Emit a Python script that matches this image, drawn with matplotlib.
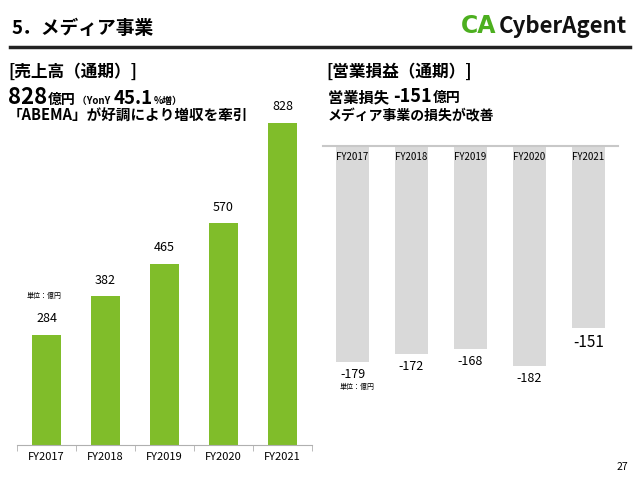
import numpy as np
import matplotlib.pyplot as plt

plt.rcParams['font.family'] = ['Noto Sans CJK JP', 'DejaVu Sans']

# data
years = ['FY2017', 'FY2018', 'FY2019', 'FY2020', 'FY2021']
sales = [284, 382, 465, 570, 828]
op_income = [-179, -172, -168, -182, -151]

green = '#80bd2a'
gray = '#d9d9d9'

W, H = 640, 480
fig = plt.figure(figsize=(6.4, 4.8), dpi=100)
renderer = fig.canvas.get_renderer()


def px_axes(x0, y0, x1, y1):
    # pixel box (top-left origin) -> figure axes
    return fig.add_axes([x0 / W, 1 - y1 / H, (x1 - x0) / W, (y1 - y0) / H])


def txt(x, y, s, **kw):
    return fig.text(x / W, 1 - y / H, s, **kw)


def chain(x, y, parts, gap=1):
    # place text pieces one after another on the same baseline
    for s, size in parts:
        t = txt(x, y, s, fontsize=size, fontweight='bold', va='baseline')
        x += t.get_window_extent(renderer).width + gap


# header
txt(12, 28, '5．メディア事業', fontsize=13.5, fontweight='bold', va='center')
fig.add_artist(plt.Line2D([10 / W, 630 / W], [1 - 47 / H, 1 - 47 / H],
                          color='#222222', lw=2.5))
txt(461, 26, 'CA', fontsize=17, fontweight='heavy', color='#4caf1f',
    va='center', family='DejaVu Sans')
txt(499, 26, 'CyberAgent', fontsize=16, fontweight='bold', color='#111111',
    va='center')
txt(628, 467, '27', fontsize=7.5, ha='right', va='center')

# left texts
txt(8, 72, '[売上高（通期）]', fontsize=12, fontweight='bold', va='center')
chain(8, 104, [('828', 16), ('億円', 10), ('（YonY ', 7), ('45.1', 13.5),
               ('%増）', 7)])
txt(8, 116, '「ABEMA」が好調により増収を牽引', fontsize=10.5, fontweight='bold',
    va='center')
txt(27, 296, '単位：億円', fontsize=5, va='center')

# right texts
txt(326, 72, '[営業損益（通期）]', fontsize=12, fontweight='bold', va='center')
chain(328, 102, [('営業損失 ', 11), ('-151', 13), ('億円', 10)])
txt(328, 116, 'メディア事業の損失が改善', fontsize=10, fontweight='bold',
    va='center')
txt(340, 387, '単位：億円', fontsize=5, va='center')

x = np.arange(len(years))

# left chart: sales
ax1 = px_axes(17, 95, 312, 445)
ax1.bar(x, sales, width=0.5, color=green)
ax1.set_xlim(-0.5, 4.5)
ax1.set_ylim(0, 900)
for xi, v in zip(x, sales):
    ax1.text(xi, v + 25, str(v), ha='center', va='bottom', fontsize=9)
for s in ['top', 'right', 'left']:
    ax1.spines[s].set_visible(False)
ax1.spines['bottom'].set_color('#b0b0b0')
ax1.set_yticks([])
ax1.set_xticks(np.arange(-0.5, 5, 1), minor=True)
ax1.set_xticks(x)
ax1.set_xticklabels(years, fontsize=8)
ax1.tick_params(axis='x', which='major', length=0, pad=5)
ax1.tick_params(axis='x', which='minor', length=4, color='#b0b0b0')

# right chart: operating income
ax2 = px_axes(323, 146, 618, 411.5)
ax2.bar(x, op_income, width=0.56, color=gray)
ax2.set_xlim(-0.5, 4.5)
ax2.set_ylim(-220, 0)
for xi, v in zip(x, op_income):
    fs = 11 if xi == 4 else 9
    ax2.text(xi, v - 5, str(v), ha='center', va='top', fontsize=fs)
for xi, lab in zip(x, years):
    ax2.text(xi, -5, lab, ha='center', va='top', fontsize=7)
for s in ['bottom', 'right', 'left']:
    ax2.spines[s].set_visible(False)
ax2.spines['top'].set_color('#c8c8c8')
ax2.spines['top'].set_linewidth(1.5)
ax2.set_xticks([])
ax2.set_yticks([])

plt.savefig('out.png', dpi=100)
